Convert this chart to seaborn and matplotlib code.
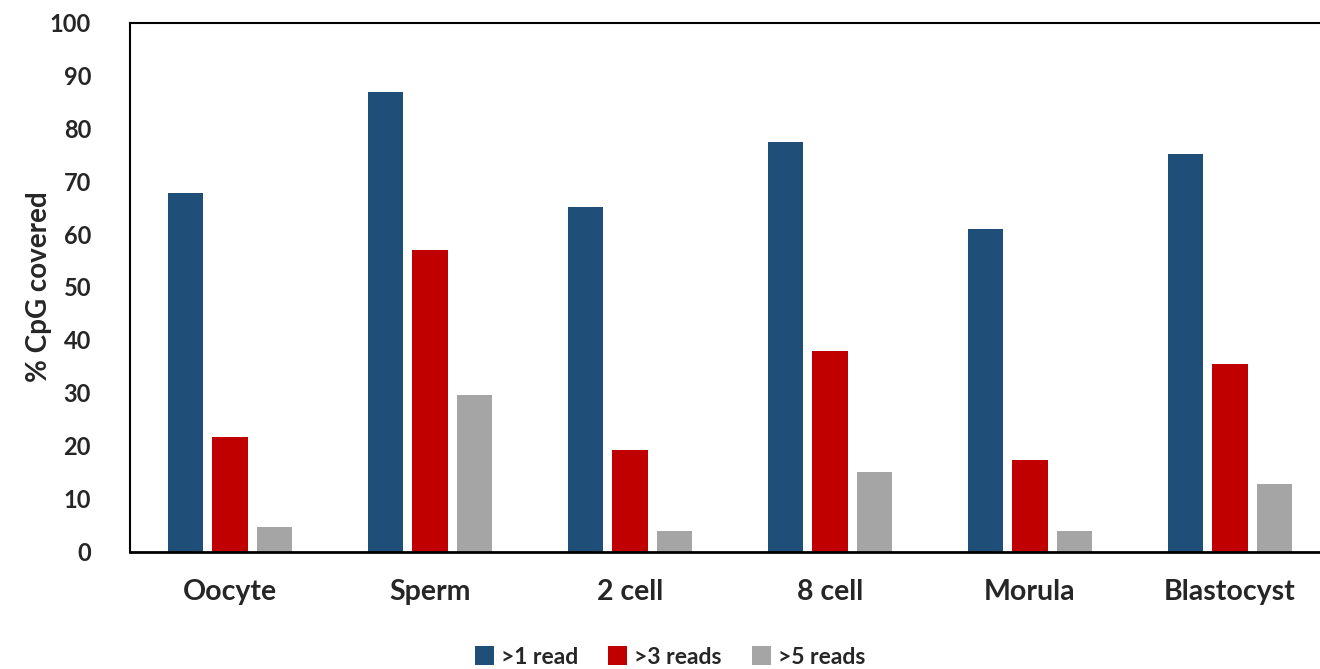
import matplotlib
matplotlib.use("Agg")
import matplotlib.pyplot as plt
import seaborn as sns
import pandas as pd
from matplotlib.patches import Patch

stages = ["Oocyte", "Sperm", "2 cell", "8 cell", "Morula", "Blastocyst"]
series = [">1 read", ">3 reads", ">5 reads"]
read1 = [67.7, 86.8, 65.1, 77.4, 61.0, 75.2]
read3 = [21.7, 57.0, 19.2, 37.9, 17.3, 35.5]
read5 = [4.7, 29.6, 3.9, 15.1, 3.9, 12.8]
colors = ["#1F4E79", "#C00000", "#A5A5A5"]
yticks = list(range(0, 101, 10))

rows = []
for s, vals in zip(series, [read1, read3, read5]):
    for st, v in zip(stages, vals):
        rows.append({"stage": st, "series": s, "value": v})
df = pd.DataFrame(rows)

sns.set_theme(style="white")
plt.rcParams["font.family"] = ["Lato", "DejaVu Sans"]
plt.rcParams["font.weight"] = "bold"

fig = plt.figure(figsize=(13.2, 6.69), dpi=100)
ax = fig.add_axes([130 / 1320, 1 - 551.5 / 669, 1200 / 1320, (551.5 - 22.5) / 669])

sns.barplot(data=df, x="stage", y="value", hue="series", order=stages,
            hue_order=series, palette=colors, width=0.667, gap=0.21,
            saturation=1, edgecolor="none", linewidth=0, legend=False, ax=ax)

ax.set_ylim(0, 100)
ax.set_xlim(-0.5, len(stages) - 0.5)
ax.set_yticks(yticks)
ax.set_yticklabels([str(t) for t in yticks], fontsize=17, fontweight="bold")
ax.set_xticklabels(stages, fontsize=20.5, fontweight="bold")
ax.tick_params(axis="x", length=0, pad=20)
ax.tick_params(axis="y", length=0, pad=28)
ax.set_xlabel("")
ax.set_ylabel("% CpG covered", fontsize=20, fontweight="bold", labelpad=4)
ax.yaxis.set_label_coords(-78 / 1200, 0.5)

for side in ["left", "top", "right"]:
    ax.spines[side].set_color("black")
    ax.spines[side].set_linewidth(1.5)
ax.spines["bottom"].set_color("black")
ax.spines["bottom"].set_linewidth(2)

handles = [Patch(facecolor=c, edgecolor="none") for c in colors]
fig.legend(handles, series, loc="center", bbox_to_anchor=(670 / 1320, 1 - 657 / 669),
           ncol=3, frameon=False, prop={"size": 16.5, "weight": "bold"},
           handlelength=0.85, handleheight=0.85, handletextpad=0.3, columnspacing=1.3)

fig.savefig("out.png", dpi=100)
